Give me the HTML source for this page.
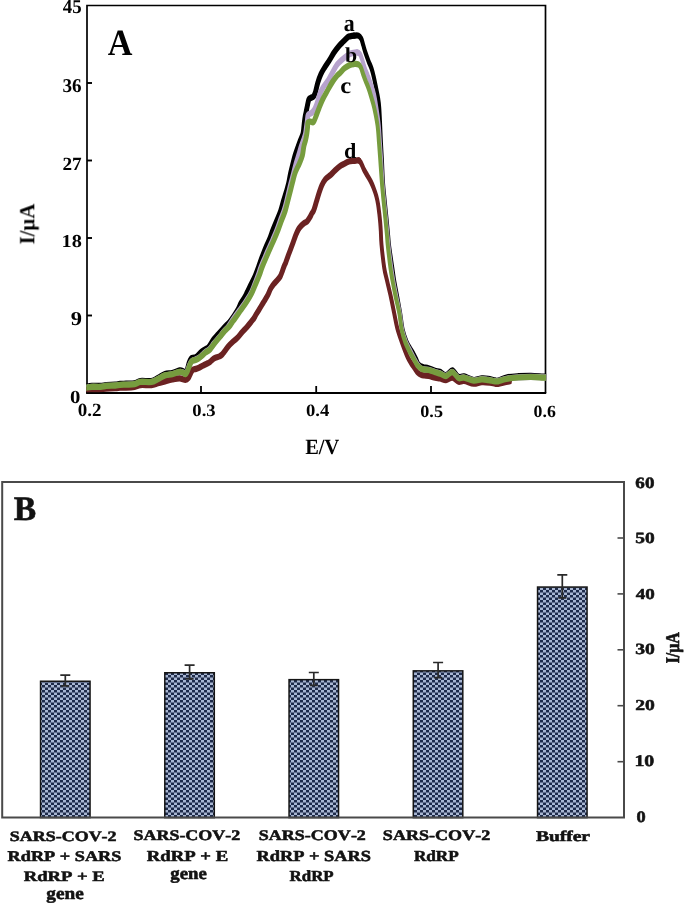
<!DOCTYPE html>
<html><head><meta charset="utf-8"><style>
html,body{margin:0;padding:0;background:#fff;}
svg{display:block;}
text{font-family:"Liberation Serif",serif;font-weight:bold;font-kerning:none;text-rendering:geometricPrecision;}
</style></head><body>
<svg width="685" height="904" viewBox="0 0 685 904">
<rect width="685" height="904" fill="#fff"/>
<path d="M87,393 V5.5 H545.5 V393" fill="none" stroke="#000" stroke-width="1.7"/>
<line x1="86.1" y1="393" x2="546.2" y2="393" stroke="#000" stroke-width="2"/>
<line x1="87" y1="315.5" x2="92" y2="315.5" stroke="#000" stroke-width="1.9"/>
<line x1="87" y1="238.0" x2="92" y2="238.0" stroke="#000" stroke-width="1.9"/>
<line x1="87" y1="160.5" x2="92" y2="160.5" stroke="#000" stroke-width="1.9"/>
<line x1="87" y1="83.0" x2="92" y2="83.0" stroke="#000" stroke-width="1.9"/>
<line x1="201" y1="393" x2="201" y2="386" stroke="#000" stroke-width="1.8"/>
<line x1="316.2" y1="393" x2="316.2" y2="386" stroke="#000" stroke-width="1.8"/>
<line x1="431" y1="393" x2="431" y2="386" stroke="#000" stroke-width="1.8"/>
<defs><clipPath id="plotclip"><rect x="86.3" y="0" width="459.8" height="392.3"/></clipPath></defs>
<g clip-path="url(#plotclip)" fill="none" stroke-linejoin="round" stroke-linecap="round">
<g stroke="#000">
<path transform="scale(1,1.3)" stroke-width="4.85" d="M86.00,297.462 C86.97,297.372 89.37,297.026 91.80,296.923 C94.23,296.821 98.17,296.962 100.60,296.846 C103.03,296.731 103.97,296.385 106.40,296.231 C108.83,296.077 112.93,296.064 115.20,295.923 C117.47,295.782 118.20,295.513 120.00,295.385 C121.80,295.256 123.57,295.244 126.00,295.154 C128.43,295.064 132.20,295.179 134.60,294.846 C137.00,294.513 137.60,293.436 140.40,293.154 C143.20,292.872 148.47,293.551 151.40,293.154 C154.33,292.756 155.73,291.679 158.00,290.769 C160.27,289.859 162.62,288.333 165.00,287.692 C167.38,287.051 169.87,287.372 172.30,286.923 C174.73,286.474 177.82,285.218 179.60,285.000 C181.38,284.782 182.03,285.295 183.00,285.615 C183.97,285.936 184.68,287.154 185.40,286.923 C186.12,286.692 186.67,285.577 187.30,284.231 C187.93,282.885 188.58,280.218 189.20,278.846 C189.82,277.474 190.32,276.603 191.00,276.000 C191.68,275.397 192.45,275.449 193.30,275.231 C194.15,275.013 194.72,275.474 196.10,274.692 C197.48,273.910 199.77,271.679 201.60,270.538 C203.43,269.397 205.90,268.449 207.10,267.846 C208.30,267.244 207.68,268.077 208.80,266.923 C209.92,265.769 212.25,262.538 213.80,260.923 C215.35,259.308 216.70,258.436 218.10,257.231 C219.50,256.026 220.88,254.821 222.20,253.692 C223.52,252.564 224.62,251.590 226.00,250.462 C227.38,249.333 228.58,248.859 230.50,246.923 C232.42,244.987 235.75,241.154 237.50,238.846 C239.25,236.538 239.82,234.744 241.00,233.077 C242.18,231.410 243.55,230.256 244.60,228.846 C245.65,227.436 246.33,226.154 247.30,224.615 C248.28,223.077 249.13,221.705 250.45,219.615 C251.77,217.526 253.86,214.449 255.20,212.077 C256.54,209.705 257.38,207.718 258.50,205.385 C259.62,203.051 260.70,200.551 261.90,198.077 C263.10,195.603 264.42,192.910 265.70,190.538 C266.98,188.167 268.40,186.115 269.60,183.846 C270.80,181.577 271.65,179.397 272.90,176.923 C274.15,174.449 275.82,171.436 277.10,169.000 C278.38,166.564 279.57,164.641 280.60,162.308 C281.63,159.974 282.35,157.474 283.30,155.000 C284.25,152.526 285.40,149.833 286.30,147.462 C287.20,145.090 288.02,143.038 288.70,140.769 C289.38,138.500 289.70,136.321 290.40,133.846 C291.10,131.372 292.10,128.359 292.90,125.923 C293.70,123.487 294.32,121.474 295.20,119.231 C296.08,116.987 297.34,114.346 298.20,112.462 C299.06,110.577 299.56,109.526 300.35,107.923 C301.14,106.321 302.37,104.538 302.95,102.846 C303.53,101.154 303.61,99.295 303.85,97.769 C304.09,96.244 304.17,95.090 304.40,93.692 C304.62,92.295 304.93,90.577 305.20,89.385 C305.47,88.192 305.70,87.628 306.00,86.538 C306.30,85.449 306.53,84.513 307.00,82.846 C307.47,81.179 308.13,77.808 308.80,76.538 C309.47,75.269 310.22,75.615 311.00,75.231 C311.78,74.846 312.75,74.974 313.50,74.231 C314.25,73.487 314.78,72.551 315.50,70.769 C316.22,68.987 316.90,65.833 317.80,63.538 C318.70,61.244 319.73,58.974 320.90,57.000 C322.07,55.026 323.38,53.474 324.80,51.692 C326.22,49.910 327.85,48.205 329.40,46.308 C330.95,44.410 332.55,42.090 334.10,40.308 C335.65,38.526 337.17,37.000 338.70,35.615 C340.23,34.231 341.75,33.192 343.30,32.000 C344.85,30.808 346.88,29.141 348.00,28.462 C349.12,27.782 349.02,28.090 350.00,27.923 C350.98,27.756 352.47,27.538 353.90,27.462"/>
<path transform="scale(1,1.6)" stroke-width="3.9" d="M353.90,22.312 C355.33,22.250 357.37,21.990 358.60,22.312 C359.83,22.635 360.53,23.281 361.30,24.250 C362.07,25.219 362.50,26.667 363.20,28.125 C363.90,29.583 364.60,31.302 365.50,33.000 C366.40,34.698 367.57,36.625 368.60,38.312 C369.63,40.000 370.78,41.354 371.70,43.125 C372.62,44.896 373.35,46.906 374.10,48.937 C374.85,50.969 375.52,53.208 376.20,55.312 C376.88,57.417 377.68,59.531 378.20,61.562 C378.72,63.594 378.97,64.698 379.30,67.500 C379.63,70.302 379.92,74.719 380.20,78.375 C380.48,82.031 380.70,85.760 381.00,89.437 C381.30,93.115 381.67,96.385 382.00,100.437 C382.33,104.490 382.55,109.615 383.00,113.750 C383.45,117.885 384.12,121.500 384.70,125.250 C385.28,129.000 385.92,132.573 386.50,136.250 C387.08,139.927 387.77,144.448 388.20,147.312 C388.63,150.177 388.42,150.104 389.10,153.438 C389.78,156.771 391.47,163.719 392.30,167.312 C393.13,170.906 393.28,171.990 394.10,175.000 C394.92,178.010 396.18,181.917 397.20,185.375 C398.22,188.833 399.28,192.292 400.20,195.750 C401.12,199.208 401.63,203.135 402.70,206.125 C403.77,209.115 405.30,211.687 406.60,213.687 C407.90,215.687 409.43,216.969 410.50,218.125 C411.57,219.281 412.08,219.583 413.00,220.625 C413.92,221.667 415.08,223.177 416.00,224.375 C416.92,225.573 417.58,227.031 418.50,227.812 C419.42,228.594 420.55,228.750 421.50,229.062 C422.45,229.375 423.02,229.510 424.20,229.688 C425.38,229.865 426.78,229.781 428.60,230.125 C430.42,230.469 433.20,231.365 435.10,231.750 C437.00,232.135 438.18,231.979 440.00,232.437 C441.82,232.896 443.93,234.667 446.00,234.500 C448.07,234.333 450.32,231.271 452.40,231.438 C454.48,231.604 456.55,234.865 458.50,235.500 C460.45,236.135 461.57,234.917 464.10,235.250 C466.63,235.583 470.75,237.292 473.70,237.500 C476.65,237.708 479.38,236.625 481.80,236.500 C484.22,236.375 486.00,236.542 488.20,236.750 C490.40,236.958 493.33,237.552 495.00,237.750 C496.67,237.948 496.30,238.240 498.20,237.937 C500.10,237.635 503.00,236.406 506.40,235.938 C509.80,235.469 514.52,235.302 518.60,235.125 C522.68,234.948 526.82,234.844 530.90,234.875 C534.98,234.906 540.42,235.240 543.10,235.312 C545.78,235.385 546.35,235.312 547.00,235.312"/>
</g>
<g stroke="#b6a2cc">
<path transform="scale(1,1.3)" stroke-width="4.85" d="M86.00,298.385 C86.97,298.269 89.37,297.808 91.80,297.692 C94.23,297.577 98.17,297.821 100.60,297.692 C103.03,297.564 103.97,297.090 106.40,296.923 C108.83,296.756 112.93,296.808 115.20,296.692 C117.47,296.577 118.20,296.346 120.00,296.231 C121.80,296.115 123.57,296.090 126.00,296.000 C128.43,295.910 132.20,296.038 134.60,295.692 C137.00,295.346 137.60,294.218 140.40,293.923 C143.20,293.628 148.47,294.295 151.40,293.923 C154.33,293.551 155.73,292.526 158.00,291.692 C160.27,290.859 162.62,289.551 165.00,288.923 C167.38,288.295 169.87,288.372 172.30,287.923 C174.73,287.474 177.82,286.462 179.60,286.231 C181.38,286.000 182.00,286.333 183.00,286.538 C184.00,286.744 184.85,287.705 185.60,287.462 C186.35,287.218 186.87,286.115 187.50,285.077 C188.13,284.038 188.78,282.359 189.40,281.231 C190.02,280.103 190.35,279.038 191.20,278.308 C192.05,277.577 193.37,277.282 194.50,276.846 C195.63,276.410 196.83,276.231 198.00,275.692 C199.17,275.154 200.33,274.385 201.50,273.615 C202.67,272.846 203.67,271.910 205.00,271.077 C206.33,270.244 208.00,269.769 209.50,268.615 C211.00,267.462 212.42,265.654 214.00,264.154 C215.58,262.654 217.33,261.154 219.00,259.615 C220.67,258.077 222.45,256.321 224.00,254.923 C225.55,253.526 226.77,252.821 228.30,251.231 C229.83,249.641 231.42,247.385 233.20,245.385 C234.98,243.385 237.05,241.282 239.00,239.231 C240.95,237.179 242.96,235.269 244.90,233.077 C246.84,230.885 249.09,228.321 250.65,226.077 C252.21,223.833 253.03,221.949 254.25,219.615 C255.47,217.282 256.88,214.449 258.00,212.077 C259.12,209.705 259.89,207.628 261.00,205.385 C262.11,203.141 263.28,201.090 264.65,198.615 C266.02,196.141 267.79,193.000 269.20,190.538 C270.61,188.077 271.83,186.090 273.10,183.846 C274.37,181.603 275.55,179.551 276.80,177.077 C278.05,174.603 279.42,171.462 280.60,169.000 C281.78,166.538 282.93,164.551 283.90,162.308 C284.87,160.064 285.57,158.013 286.40,155.538 C287.23,153.064 288.13,149.923 288.90,147.462 C289.67,145.000 290.25,143.038 291.00,140.769 C291.75,138.500 292.57,136.321 293.40,133.846 C294.23,131.372 295.12,128.359 296.00,125.923 C296.88,123.487 297.82,121.474 298.70,119.231 C299.58,116.987 300.50,114.385 301.30,112.462 C302.10,110.538 302.80,109.295 303.50,107.692 C304.20,106.090 305.01,104.500 305.50,102.846 C305.99,101.192 306.15,99.397 306.45,97.769 C306.75,96.141 307.01,94.654 307.30,93.077 C307.59,91.500 307.50,89.333 308.20,88.308 C308.90,87.282 310.53,87.513 311.50,86.923 C312.47,86.333 313.37,85.423 314.00,84.769 C314.63,84.115 314.80,83.859 315.30,83.000 C315.80,82.141 316.47,80.846 317.00,79.615 C317.53,78.385 317.93,77.013 318.50,75.615 C319.07,74.218 319.53,72.744 320.40,71.231 C321.27,69.718 322.36,68.167 323.70,66.538 C325.04,64.910 326.98,63.256 328.45,61.462 C329.92,59.667 331.16,57.615 332.50,55.769 C333.84,53.923 335.23,51.795 336.50,50.385 C337.77,48.974 338.72,48.346 340.10,47.308 C341.48,46.269 343.23,45.090 344.80,44.154 C346.37,43.218 348.37,42.218 349.50,41.692 C350.63,41.167 350.35,41.231 351.60,41.000 C352.85,40.769 355.58,40.179 357.00,40.308"/>
<path transform="scale(1,1.6)" stroke-width="3.9" d="M357.00,32.750 C358.42,32.854 359.20,33.094 360.10,33.937 C361.00,34.781 361.62,36.365 362.40,37.812 C363.18,39.260 363.88,41.010 364.80,42.625 C365.72,44.240 366.87,45.802 367.90,47.500 C368.93,49.198 369.97,50.875 371.00,52.812 C372.03,54.750 373.20,56.708 374.10,59.125 C375.00,61.542 375.62,64.104 376.40,67.312 C377.18,70.521 378.20,74.688 378.80,78.375 C379.40,82.062 379.60,85.760 380.00,89.437 C380.40,93.115 380.78,96.312 381.20,100.437 C381.62,104.562 382.02,110.052 382.50,114.187 C382.98,118.323 383.53,121.573 384.10,125.250 C384.67,128.927 385.32,132.573 385.90,136.250 C386.48,139.927 387.18,144.542 387.60,147.312 C388.02,150.083 387.78,149.542 388.40,152.875 C389.02,156.208 390.50,163.625 391.30,167.312 C392.10,171.000 392.35,171.990 393.20,175.000 C394.05,178.010 395.30,181.917 396.40,185.375 C397.50,188.833 398.83,192.292 399.80,195.750 C400.77,199.208 401.18,203.135 402.20,206.125 C403.22,209.115 404.53,211.479 405.90,213.687 C407.27,215.896 408.93,217.542 410.40,219.375 C411.87,221.208 413.43,223.229 414.70,224.688 C415.97,226.146 416.95,227.208 418.00,228.125 C419.05,229.042 419.97,229.729 421.00,230.188 C422.03,230.646 422.93,230.719 424.20,230.875 C425.47,231.031 426.78,230.854 428.60,231.125 C430.42,231.396 433.20,232.125 435.10,232.500 C437.00,232.875 438.18,232.969 440.00,233.375 C441.82,233.781 443.93,235.083 446.00,234.938 C448.07,234.792 450.32,232.292 452.40,232.500 C454.48,232.708 456.55,235.615 458.50,236.188 C460.45,236.760 461.57,235.667 464.10,235.938 C466.63,236.208 470.75,237.646 473.70,237.812 C476.65,237.979 479.38,237.000 481.80,236.938 C484.22,236.875 486.00,237.229 488.20,237.438 C490.40,237.646 493.33,238.062 495.00,238.188 C496.67,238.312 496.30,238.427 498.20,238.188 C500.10,237.948 503.00,237.146 506.40,236.750 C509.80,236.354 514.52,236.021 518.60,235.812 C522.68,235.604 526.82,235.490 530.90,235.500 C534.98,235.510 540.42,235.812 543.10,235.875 C545.78,235.938 546.35,235.875 547.00,235.875"/>
</g>
<g stroke="#6b2222">
<path transform="scale(1,1.3)" stroke-width="4.85" d="M86.00,300.077 C86.97,300.026 89.85,299.782 91.80,299.769 C93.75,299.756 95.75,300.115 97.70,300.000 C99.65,299.885 100.58,299.308 103.50,299.077 C106.42,298.846 112.45,298.782 115.20,298.615 C117.95,298.449 118.20,298.154 120.00,298.077 C121.80,298.000 123.57,298.244 126.00,298.154 C128.43,298.064 132.20,297.872 134.60,297.538 C137.00,297.205 137.60,296.385 140.40,296.154 C143.20,295.923 148.47,296.385 151.40,296.154 C154.33,295.923 155.73,295.244 158.00,294.769 C160.27,294.295 162.62,293.782 165.00,293.308 C167.38,292.833 169.87,292.295 172.30,291.923 C174.73,291.551 177.42,291.038 179.60,291.077 C181.78,291.115 183.93,292.205 185.40,292.154 C186.87,292.103 187.55,291.564 188.40,290.769 C189.25,289.974 189.78,288.436 190.50,287.385 C191.22,286.333 191.78,285.064 192.70,284.462 C193.62,283.859 194.87,284.064 196.00,283.769 C197.13,283.474 198.33,283.115 199.50,282.692 C200.67,282.269 201.83,281.692 203.00,281.231 C204.17,280.769 205.33,280.397 206.50,279.923 C207.67,279.449 208.83,279.038 210.00,278.385 C211.17,277.731 212.45,276.577 213.50,276.000 C214.55,275.423 215.30,275.231 216.30,274.923 C217.30,274.615 218.55,274.513 219.50,274.154 C220.45,273.795 221.23,273.333 222.00,272.769 C222.77,272.205 223.05,271.833 224.10,270.769 C225.15,269.705 226.65,267.833 228.30,266.385 C229.95,264.936 232.50,263.154 234.00,262.077 C235.50,261.000 235.94,261.013 237.30,259.923 C238.66,258.833 240.59,256.897 242.15,255.538 C243.71,254.179 245.18,253.064 246.65,251.769 C248.12,250.474 249.69,248.974 250.95,247.769 C252.21,246.564 253.39,245.474 254.20,244.538 C255.01,243.603 254.98,243.231 255.80,242.154 C256.62,241.077 257.89,239.654 259.15,238.077 C260.41,236.500 261.95,234.487 263.35,232.692 C264.75,230.897 266.34,229.064 267.55,227.308 C268.76,225.551 269.56,223.628 270.60,222.154 C271.64,220.679 272.75,219.500 273.80,218.462 C274.85,217.423 275.83,216.885 276.90,215.923 C277.97,214.962 279.30,213.897 280.20,212.692 C281.10,211.487 281.63,210.038 282.30,208.692 C282.97,207.346 283.64,205.705 284.20,204.615 C284.76,203.526 285.00,203.462 285.65,202.154 C286.30,200.846 287.25,198.564 288.10,196.769 C288.95,194.974 289.88,193.179 290.75,191.385 C291.62,189.590 292.49,187.795 293.35,186.000 C294.21,184.205 295.07,182.192 295.90,180.615 C296.73,179.038 297.50,177.667 298.35,176.538 C299.20,175.410 300.06,174.641 301.00,173.846 C301.94,173.051 303.00,172.346 304.00,171.769 C305.00,171.192 306.02,171.154 307.00,170.385 C307.98,169.615 309.10,168.179 309.90,167.154 C310.70,166.128 311.15,165.141 311.80,164.231 C312.45,163.321 313.02,163.256 313.80,161.692 C314.58,160.128 315.60,157.115 316.50,154.846 C317.40,152.577 318.32,150.115 319.20,148.077 C320.08,146.038 320.77,144.321 321.80,142.615 C322.83,140.910 323.92,139.205 325.40,137.846 C326.88,136.487 329.08,135.590 330.70,134.462 C332.32,133.333 333.52,132.205 335.10,131.077 C336.68,129.949 338.62,128.564 340.20,127.692 C341.78,126.821 343.17,126.423 344.60,125.846 C346.03,125.269 347.22,124.590 348.80,124.231 C350.38,123.872 352.47,123.833 354.10,123.692 C355.73,123.551 357.42,123.064 358.60,123.385"/>
<path transform="scale(1,1.6)" stroke-width="3.9" d="M358.60,100.250 C359.78,100.510 360.32,101.115 361.20,102.062 C362.08,103.010 362.87,104.656 363.90,105.938 C364.93,107.219 366.23,108.469 367.40,109.750 C368.57,111.031 369.87,112.333 370.90,113.625 C371.93,114.917 372.70,116.021 373.60,117.500 C374.50,118.979 375.57,120.844 376.30,122.500 C377.03,124.156 377.50,125.594 378.00,127.438 C378.50,129.281 378.93,131.625 379.30,133.562 C379.67,135.500 379.95,137.260 380.20,139.062 C380.45,140.865 380.58,142.073 380.80,144.375 C381.02,146.677 380.93,149.052 381.50,152.875 C382.07,156.698 383.30,163.625 384.20,167.312 C385.10,171.000 385.80,171.990 386.90,175.000 C388.00,178.010 389.58,181.917 390.80,185.375 C392.02,188.833 393.10,192.427 394.20,195.750 C395.30,199.073 396.13,202.323 397.40,205.312 C398.67,208.302 400.13,210.771 401.80,213.687 C403.47,216.604 405.87,220.615 407.40,222.812 C408.93,225.010 409.90,225.740 411.00,226.875 C412.10,228.010 412.92,228.635 414.00,229.625 C415.08,230.615 416.33,232.042 417.50,232.812 C418.67,233.583 419.88,233.938 421.00,234.250 C422.12,234.562 422.93,234.573 424.20,234.688 C425.47,234.802 426.78,234.708 428.60,234.937 C430.42,235.167 433.20,235.792 435.10,236.062 C437.00,236.333 438.18,236.312 440.00,236.562 C441.82,236.812 443.93,237.646 446.00,237.562 C448.07,237.479 450.32,235.896 452.40,236.062 C454.48,236.229 456.55,238.229 458.50,238.562 C460.45,238.896 461.57,237.854 464.10,238.062 C466.63,238.271 470.75,239.688 473.70,239.812 C476.65,239.937 479.08,238.927 481.80,238.812 C484.52,238.698 487.80,238.958 490.00,239.125 C492.20,239.292 493.63,239.688 495.00,239.812 C496.37,239.937 496.30,240.073 498.20,239.875 C500.10,239.677 504.43,238.896 506.40,238.625 C508.37,238.354 509.40,238.312 510.00,238.250"/>
</g>
<g stroke="#769c3e">
<path transform="scale(1,1.3)" stroke-width="4.85" d="M86.00,298.231 C86.97,298.115 89.37,297.654 91.80,297.538 C94.23,297.423 98.17,297.667 100.60,297.538 C103.03,297.410 103.97,296.936 106.40,296.769 C108.83,296.603 112.93,296.654 115.20,296.538 C117.47,296.423 118.20,296.192 120.00,296.077 C121.80,295.962 123.57,295.936 126.00,295.846 C128.43,295.756 132.20,295.885 134.60,295.538 C137.00,295.192 137.60,294.064 140.40,293.769 C143.20,293.474 148.47,294.141 151.40,293.769 C154.33,293.397 155.73,292.372 158.00,291.538 C160.27,290.705 162.62,289.397 165.00,288.769 C167.38,288.141 169.87,288.218 172.30,287.769 C174.73,287.321 177.82,286.244 179.60,286.077 C181.38,285.910 182.00,286.500 183.00,286.769 C184.00,287.038 184.85,287.923 185.60,287.692 C186.35,287.462 186.87,286.410 187.50,285.385 C188.13,284.359 188.78,282.667 189.40,281.538 C190.02,280.410 190.52,279.359 191.20,278.615 C191.88,277.872 192.90,277.333 193.50,277.077 C194.10,276.821 194.00,277.282 194.80,277.077 C195.60,276.872 197.13,276.397 198.30,275.846 C199.47,275.295 200.63,274.538 201.80,273.769 C202.97,273.000 203.93,272.064 205.30,271.231 C206.67,270.397 208.38,270.026 210.00,268.769 C211.62,267.513 213.33,265.314 215.00,263.692 C216.67,262.071 218.33,260.603 220.00,259.038 C221.67,257.474 223.44,255.635 225.00,254.308 C226.56,252.981 228.12,252.179 229.35,251.077 C230.57,249.974 231.47,248.641 232.35,247.692 C233.22,246.744 233.29,246.795 234.60,245.385 C235.91,243.974 238.32,241.282 240.20,239.231 C242.08,237.179 244.04,235.269 245.90,233.077 C247.76,230.885 249.78,228.385 251.35,226.077 C252.92,223.769 253.99,221.564 255.30,219.231 C256.61,216.897 258.05,214.385 259.20,212.077 C260.35,209.769 261.03,207.718 262.20,205.385 C263.37,203.051 264.82,200.551 266.20,198.077 C267.58,195.603 269.13,192.910 270.50,190.538 C271.87,188.167 273.10,186.179 274.40,183.846 C275.70,181.513 277.05,179.013 278.30,176.538 C279.55,174.064 280.75,171.372 281.90,169.000 C283.05,166.628 284.23,164.641 285.20,162.308 C286.17,159.974 286.87,157.474 287.70,155.000 C288.53,152.526 289.42,149.833 290.20,147.462 C290.98,145.090 291.60,143.128 292.40,140.769 C293.20,138.410 294.18,135.244 295.00,133.308 C295.82,131.372 296.58,130.385 297.30,129.154 C298.02,127.923 298.45,127.513 299.30,125.923 C300.15,124.333 301.63,121.859 302.40,119.615 C303.17,117.372 303.38,114.410 303.90,112.462 C304.42,110.513 305.06,109.526 305.55,107.923 C306.04,106.321 306.51,104.538 306.85,102.846 C307.19,101.154 307.43,99.205 307.60,97.769 C307.78,96.333 307.42,94.936 307.90,94.231 C308.38,93.526 309.57,93.603 310.50,93.538 C311.43,93.474 312.60,94.500 313.50,93.846 C314.40,93.192 314.95,91.449 315.90,89.615 C316.85,87.782 318.02,85.115 319.20,82.846 C320.38,80.577 321.57,78.269 323.00,76.000 C324.43,73.731 326.22,71.397 327.80,69.231 C329.38,67.064 330.93,64.859 332.50,63.000 C334.07,61.141 335.95,59.231 337.20,58.077 C338.45,56.923 338.77,57.013 340.00,56.077 C341.23,55.141 343.05,53.449 344.60,52.462 C346.15,51.474 347.75,50.692 349.30,50.154 C350.85,49.615 352.35,49.333 353.90,49.231"/>
<path transform="scale(1,1.6)" stroke-width="3.9" d="M353.90,40.000 C355.45,39.917 357.43,39.885 358.60,40.250 C359.77,40.615 360.13,41.146 360.90,42.188 C361.67,43.229 362.43,45.135 363.20,46.500 C363.97,47.865 364.60,48.917 365.50,50.375 C366.40,51.833 367.68,53.635 368.60,55.250 C369.52,56.865 370.07,58.052 371.00,60.062 C371.93,62.073 373.12,64.260 374.20,67.312 C375.28,70.365 376.70,74.688 377.50,78.375 C378.30,82.062 378.53,85.760 379.00,89.437 C379.47,93.115 379.82,96.312 380.30,100.437 C380.78,104.562 381.37,110.052 381.90,114.187 C382.43,118.323 382.93,121.573 383.50,125.250 C384.07,128.927 384.72,132.573 385.30,136.250 C385.88,139.927 386.60,144.542 387.00,147.312 C387.40,150.083 387.13,149.542 387.70,152.875 C388.27,156.208 389.62,163.625 390.40,167.312 C391.18,171.000 391.53,171.990 392.40,175.000 C393.27,178.010 394.45,181.917 395.60,185.375 C396.75,188.833 398.28,192.292 399.30,195.750 C400.32,199.208 400.72,203.135 401.70,206.125 C402.68,209.115 403.77,211.292 405.20,213.687 C406.63,216.083 408.77,218.604 410.30,220.500 C411.83,222.396 413.20,223.740 414.40,225.062 C415.60,226.385 416.40,227.562 417.50,228.438 C418.60,229.312 419.88,229.885 421.00,230.312 C422.12,230.740 422.93,230.844 424.20,231.000 C425.47,231.156 426.78,230.979 428.60,231.250 C430.42,231.521 433.20,232.250 435.10,232.625 C437.00,233.000 438.18,233.094 440.00,233.500 C441.82,233.906 443.93,235.208 446.00,235.062 C448.07,234.917 450.32,232.417 452.40,232.625 C454.48,232.833 456.55,235.740 458.50,236.312 C460.45,236.885 461.57,235.792 464.10,236.062 C466.63,236.333 470.75,237.771 473.70,237.937 C476.65,238.104 479.38,237.125 481.80,237.062 C484.22,237.000 486.00,237.354 488.20,237.562 C490.40,237.771 493.33,238.188 495.00,238.312 C496.67,238.438 496.30,238.552 498.20,238.312 C500.10,238.073 503.00,237.271 506.40,236.875 C509.80,236.479 514.52,236.146 518.60,235.938 C522.68,235.729 526.82,235.615 530.90,235.625 C534.98,235.635 540.42,235.938 543.10,236.000 C545.78,236.063 546.35,236.000 547.00,236.000"/>
</g>
</g>
<g font-family="Liberation Serif" font-weight="bold" opacity="0.995">
<text transform="matrix(0.188479,0,0,0.196117,62.842,12.508)" font-size="100" fill="#000">45</text>
<text transform="matrix(0.191833,0,0,0.194977,62.479,92.410)" font-size="100" fill="#000">36</text>
<text transform="matrix(0.192803,0,0,0.185770,62.390,169.600)" font-size="100" fill="#000">27</text>
<text transform="matrix(0.202996,0,0,0.182275,61.574,247.322)" font-size="100" fill="#000">18</text>
<text transform="matrix(0.224501,0,0,0.197953,70.786,325.107)" font-size="100" fill="#000">9</text>
<text transform="matrix(0.207631,0,0,0.185239,70.109,402.619)" font-size="100" fill="#000">0</text>
<text transform="matrix(0.190770,0,0,0.186985,77.673,416.135)" font-size="100" fill="#000">0.2</text>
<text transform="matrix(0.186799,0,0,0.173734,192.289,416.154)" font-size="100" fill="#000">0.3</text>
<text transform="matrix(0.186867,0,0,0.173734,305.888,416.154)" font-size="100" fill="#000">0.4</text>
<text transform="matrix(0.181231,0,0,0.172262,420.310,416.556)" font-size="100" fill="#000">0.5</text>
<text transform="matrix(0.177572,0,0,0.172262,533.624,416.556)" font-size="100" fill="#000">0.6</text>
<text transform="matrix(0.204434,0,0,0.216672,305.151,454.172)" font-size="100" fill="#000">E/V</text>
<text transform="matrix(0.341806,0,0,0.371124,107.666,54.700)" font-size="100" fill="#000">A</text>
<text transform="matrix(0.218718,0,0,0.237994,343.795,31.168)" font-size="100" fill="#000">a</text>
<text transform="matrix(0.218718,0,0,0.211764,345.122,61.993)" font-size="100" fill="#000">b</text>
<text transform="matrix(0.246904,0,0,0.228943,340.356,93.388)" font-size="100" fill="#000">c</text>
<text transform="matrix(0.222048,0,0,0.216028,343.900,158.489)" font-size="100" fill="#000">d</text>
<text transform="matrix(0,-0.207829,0.216483,0,34.591,244.400)" font-size="100" fill="#000">I/μA</text>
</g>
<defs><pattern id="chk" patternUnits="userSpaceOnUse" width="6" height="5" x="0" y="0"><rect width="6" height="5" fill="#a8b6d2"/><rect x="0" y="0" width="3" height="2.5" fill="#1e2b4a"/><rect x="3" y="2.5" width="3" height="2.5" fill="#1e2b4a"/></pattern></defs>
<rect x="40.55" y="681.25" width="49.50" height="136.35" fill="url(#chk)" stroke="#151515" stroke-width="1.5"/>
<rect x="164.80" y="672.75" width="49.50" height="144.85" fill="url(#chk)" stroke="#151515" stroke-width="1.5"/>
<rect x="289.05" y="679.65" width="49.50" height="137.95" fill="url(#chk)" stroke="#151515" stroke-width="1.5"/>
<rect x="413.30" y="670.85" width="49.50" height="146.75" fill="url(#chk)" stroke="#151515" stroke-width="1.5"/>
<rect x="537.55" y="587.05" width="49.50" height="230.55" fill="url(#chk)" stroke="#151515" stroke-width="1.5"/>
<path d="M60.3,675.2 H70.3 M65.3,675.2 V685.8 M61.3,685.8 H69.3" stroke="#2a2a2a" stroke-width="1.7" fill="none"/>
<path d="M184.6,665.1 H194.6 M189.6,665.1 V678.9 M185.6,678.9 H193.6" stroke="#2a2a2a" stroke-width="1.7" fill="none"/>
<path d="M308.8,672.5 H318.8 M313.8,672.5 V685.3 M309.8,685.3 H317.8" stroke="#2a2a2a" stroke-width="1.7" fill="none"/>
<path d="M433.1,662.5 H443.1 M438.1,662.5 V677.7 M434.1,677.7 H442.1" stroke="#2a2a2a" stroke-width="1.7" fill="none"/>
<path d="M557.3,574.8 H567.3 M562.3,574.8 V597.8 M558.3,597.8 H566.3" stroke="#2a2a2a" stroke-width="1.7" fill="none"/>
<path d="M2.2,817.6 V482 H624 V817.6 Z" fill="none" stroke="#4a4a4a" stroke-width="2"/>
<line x1="617.5" y1="761.7" x2="624" y2="761.7" stroke="#4a4a4a" stroke-width="1.6"/>
<line x1="617.5" y1="705.7" x2="624" y2="705.7" stroke="#4a4a4a" stroke-width="1.6"/>
<line x1="617.5" y1="649.8" x2="624" y2="649.8" stroke="#4a4a4a" stroke-width="1.6"/>
<line x1="617.5" y1="593.9" x2="624" y2="593.9" stroke="#4a4a4a" stroke-width="1.6"/>
<line x1="617.5" y1="538.0" x2="624" y2="538.0" stroke="#4a4a4a" stroke-width="1.6"/>
<g font-family="Liberation Serif" font-weight="bold" opacity="0.995">
<text transform="matrix(0.335711,0,0,0.342094,13.743,519.700)" font-size="100" fill="#111" stroke="#111" stroke-width="1.770" stroke-linejoin="round">B</text>
<text transform="matrix(0.190787,0,0,0.157082,635.348,487.547)" font-size="100" fill="#111" stroke="#111" stroke-width="3.466" stroke-linejoin="round">60</text>
<text transform="matrix(0.194169,0,0,0.155601,635.223,543.348)" font-size="100" fill="#111" stroke="#111" stroke-width="3.452" stroke-linejoin="round">50</text>
<text transform="matrix(0.190880,0,0,0.151155,635.739,598.552)" font-size="100" fill="#111" stroke="#111" stroke-width="3.532" stroke-linejoin="round">40</text>
<text transform="matrix(0.195820,0,0,0.155601,635.264,654.448)" font-size="100" fill="#111" stroke="#111" stroke-width="3.437" stroke-linejoin="round">30</text>
<text transform="matrix(0.196756,0,0,0.151155,635.174,710.452)" font-size="100" fill="#111" stroke="#111" stroke-width="3.479" stroke-linejoin="round">20</text>
<text transform="matrix(0.198450,0,0,0.161528,634.411,766.442)" font-size="100" fill="#111" stroke="#111" stroke-width="3.351" stroke-linejoin="round">10</text>
<text transform="matrix(0.184037,0,0,0.161528,636.499,822.142)" font-size="100" fill="#111" stroke="#111" stroke-width="3.480" stroke-linejoin="round">0</text>
<text transform="matrix(0.179700,0,0,0.144704,9.744,841.281)" font-size="100" fill="#111" stroke="#111" stroke-width="3.721" stroke-linejoin="round">SARS-COV-2</text>
<text transform="matrix(0.182415,0,0,0.147808,7.588,860.956)" font-size="100" fill="#111" stroke="#111" stroke-width="3.654" stroke-linejoin="round">RdRP + SARS</text>
<text transform="matrix(0.186224,0,0,0.144966,23.682,880.658)" font-size="100" fill="#111" stroke="#111" stroke-width="3.652" stroke-linejoin="round">RdRP + E</text>
<text transform="matrix(0.192430,0,0,0.173051,46.293,899.381)" font-size="100" fill="#111" stroke="#111" stroke-width="3.288" stroke-linejoin="round">gene</text>
<text transform="matrix(0.179700,0,0,0.146180,133.444,840.379)" font-size="100" fill="#111" stroke="#111" stroke-width="3.702" stroke-linejoin="round">SARS-COV-2</text>
<text transform="matrix(0.187159,0,0,0.153493,146.780,860.950)" font-size="100" fill="#111" stroke="#111" stroke-width="3.540" stroke-linejoin="round">RdRP + E</text>
<text transform="matrix(0.187672,0,0,0.173051,170.305,879.481)" font-size="100" fill="#111" stroke="#111" stroke-width="3.329" stroke-linejoin="round">gene</text>
<text transform="matrix(0.180042,0,0,0.146180,258.842,840.379)" font-size="100" fill="#111" stroke="#111" stroke-width="3.698" stroke-linejoin="round">SARS-COV-2</text>
<text transform="matrix(0.183386,0,0,0.153493,256.587,860.950)" font-size="100" fill="#111" stroke="#111" stroke-width="3.576" stroke-linejoin="round">RdRP + SARS</text>
<text transform="matrix(0.169140,0,0,0.153493,289.511,880.650)" font-size="100" fill="#111" stroke="#111" stroke-width="3.724" stroke-linejoin="round">RdRP</text>
<text transform="matrix(0.180726,0,0,0.146180,382.838,840.379)" font-size="100" fill="#111" stroke="#111" stroke-width="3.691" stroke-linejoin="round">SARS-COV-2</text>
<text transform="matrix(0.171479,0,0,0.153493,413.907,860.950)" font-size="100" fill="#111" stroke="#111" stroke-width="3.698" stroke-linejoin="round">RdRP</text>
<text transform="matrix(0.194978,0,0,0.149377,535.876,841.118)" font-size="100" fill="#111" stroke="#111" stroke-width="3.516" stroke-linejoin="round">Buffer</text>
<text transform="matrix(0,-0.159266,0.193575,0,679.079,663.337)" font-size="100" fill="#111" stroke="#111" stroke-width="3.417" stroke-linejoin="round">I/μA</text>
</g>
</svg>
</body></html>
